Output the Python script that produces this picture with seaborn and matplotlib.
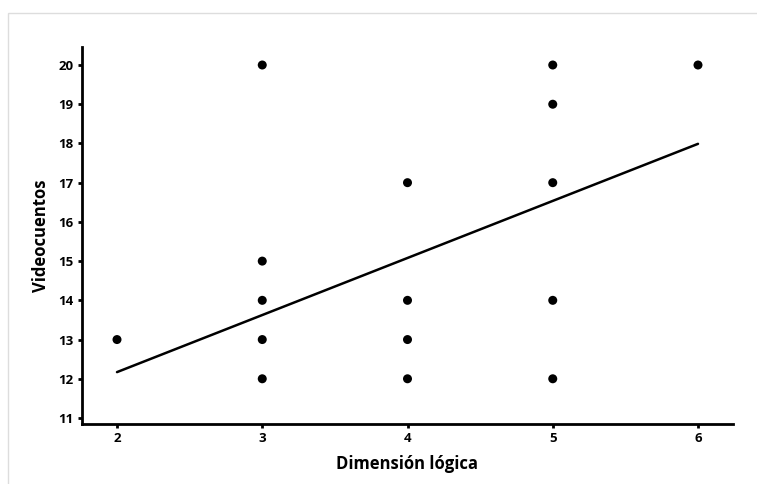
import matplotlib
matplotlib.use("Agg")
import matplotlib.pyplot as plt
import seaborn as sns
import pandas as pd
from matplotlib.patches import Rectangle

# data
dim_logica = [2, 3, 3, 3, 3, 3, 4, 4, 4, 4, 5, 5, 5, 5, 5, 6]
videocuentos = [13, 20, 15, 14, 13, 12, 17, 14, 13, 12, 20, 19, 17, 14, 12, 20]

# fitted line endpoints
fit_x = [2, 6]
fit_y = [12.17, 17.99]

df = pd.DataFrame({"x": dim_logica, "y": videocuentos})
fit = pd.DataFrame({"x": fit_x, "y": fit_y})

sns.set_style("ticks")
plt.rcParams["font.family"] = ["Open Sans", "DejaVu Sans"]
plt.rcParams["text.color"] = "black"
plt.rcParams["axes.labelcolor"] = "black"
plt.rcParams["xtick.color"] = "black"
plt.rcParams["ytick.color"] = "black"

fig = plt.figure(figsize=(7.57, 4.84), dpi=100)
ax = fig.add_axes([82 / 757, 60 / 484, 651 / 757, 377 / 484])

sns.scatterplot(data=df, x="x", y="y", ax=ax, color="black", s=42,
                edgecolor="none", zorder=3)
sns.lineplot(data=fit, x="x", y="y", ax=ax, color="black", linewidth=1.8)

ax.set_xlim(1.759, 6.241)
ax.set_ylim(10.847, 20.459)
ax.set_xticks([2, 3, 4, 5, 6])
ax.set_yticks(range(11, 21))

sns.despine(ax=ax)
for side in ["left", "bottom"]:
    ax.spines[side].set_linewidth(2)
    ax.spines[side].set_color("black")
ax.tick_params(length=3, width=2, color="black", labelsize=9.5, pad=3)
for lab in ax.get_xticklabels() + ax.get_yticklabels():
    lab.set_fontweight("bold")

ax.set_xlabel("Dimensión lógica", fontsize=12, fontweight="bold", labelpad=7)
ax.set_ylabel("Videocuentos", fontsize=12, fontweight="bold", labelpad=6)

# light frame around the plot area
fig.patches.append(Rectangle((8 / 757, -0.1), 1.0, (484 - 13) / 484 + 0.1,
                             transform=fig.transFigure, fill=False,
                             edgecolor="#dddddd", linewidth=1))

fig.savefig("out.png", dpi=100)
